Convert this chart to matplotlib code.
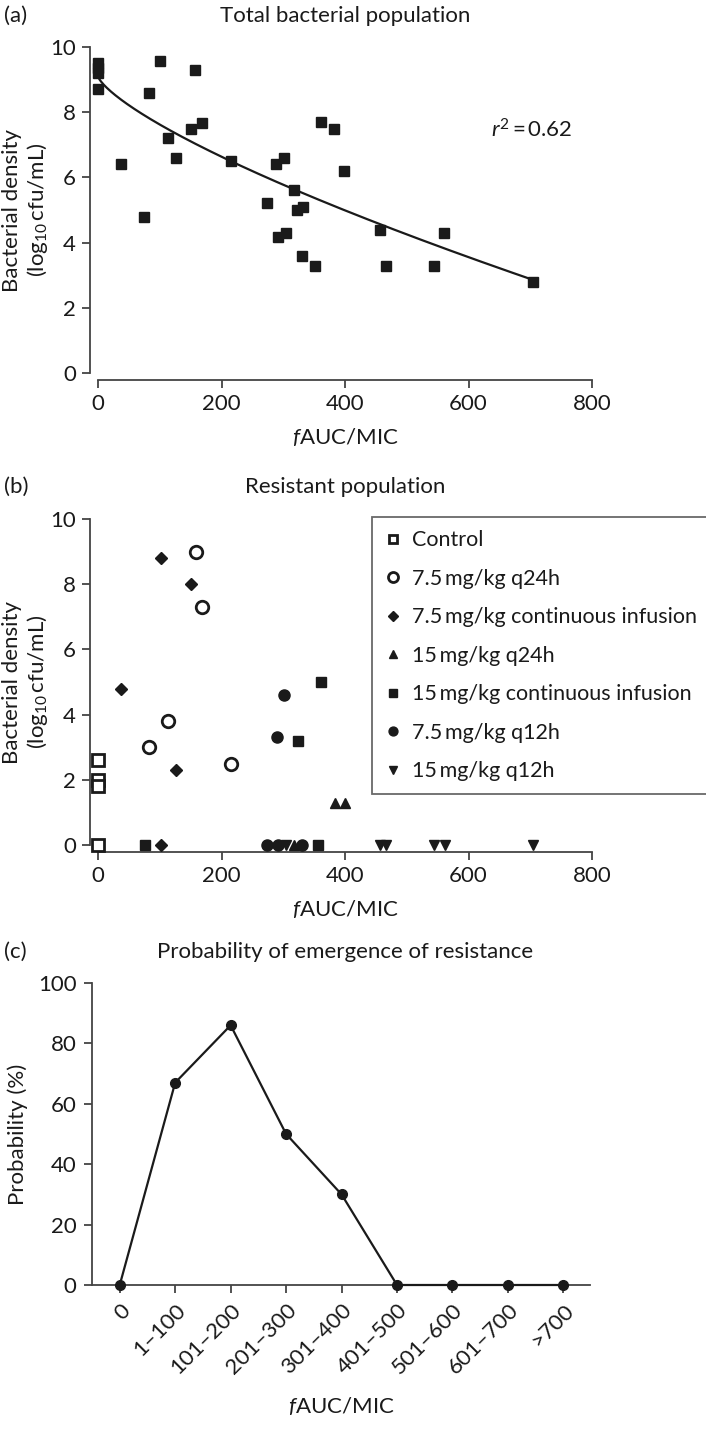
import numpy as np
import matplotlib
matplotlib.use("Agg")
import matplotlib.pyplot as plt

plt.rcParams['font.family'] = ['Lato', 'DejaVu Sans']
plt.rcParams['mathtext.fontset'] = 'custom'
plt.rcParams['mathtext.rm'] = 'Lato'
plt.rcParams['mathtext.it'] = 'Lato:italic'
plt.rcParams['mathtext.bf'] = 'Lato:bold'

# ---------------- data ----------------
# Panel (a): total bacterial population
total_x = [0, 0, 0, 0, 38, 75, 82, 101, 113, 126, 150, 157, 169, 215,
           274, 289, 292, 301, 304, 317, 323, 330, 332, 352, 361, 382, 399,
           456, 467, 544, 561, 705]
total_y = [9.5, 9.35, 9.2, 8.72, 6.4, 4.8, 8.6, 9.58, 7.2, 6.6, 7.5, 9.28, 7.68, 6.5,
           5.2, 6.4, 4.18, 6.6, 4.3, 5.6, 5.0, 3.59, 5.09, 3.29, 7.69, 7.48, 6.2,
           4.39, 3.29, 3.29, 4.28, 2.79]
fit_a, fit_b, fit_c = 9.1, 0.0494, 0.738   # fitted model y = a - b*x^c
r2_text = "0.62"

# Panel (b): resistant population, by regimen
groups = ["Control", "7.5\u2009mg/kg q24h", "7.5\u2009mg/kg continuous infusion",
          "15\u2009mg/kg q24h", "15\u2009mg/kg continuous infusion",
          "7.5\u2009mg/kg q12h", "15\u2009mg/kg q12h"]
ctrl_x = [0, 0, 0, 0];            ctrl_y = [2.6, 2.0, 1.8, 0]
q24_75_x = [83, 113, 158, 169, 216]; q24_75_y = [3.0, 3.8, 9.0, 7.3, 2.5]
ci_75_x = [38, 102, 102, 126, 151];  ci_75_y = [4.8, 8.8, 0, 2.3, 8.0]
q24_15_x = [317, 383, 400];          q24_15_y = [0, 1.3, 1.3]
ci_15_x = [76, 324, 356, 361];       ci_15_y = [0, 3.2, 0, 5.0]
q12_75_x = [274, 290, 292, 301, 330]; q12_75_y = [0, 3.3, 0, 4.6, 0]
q12_15_x = [304, 457, 467, 544, 562, 705]; q12_15_y = [0, 0, 0, 0, 0, 0]

# Panel (c): probability of emergence of resistance
prob_cats = ["0", "1\u2013100", "101\u2013200", "201\u2013300", "301\u2013400",
             "401\u2013500", "501\u2013600", "601\u2013700", ">700"]
prob_vals = [0, 67, 86, 50, 30, 0, 0, 0, 0]

# ---------------- figure ----------------
W, H = 706, 1452
fig = plt.figure(figsize=(W / 100, H / 100), dpi=100)

def px_axes(left, top, right, bottom):
    return fig.add_axes([left / W, 1 - bottom / H, (right - left) / W, (bottom - top) / H])

ink = '#1a1a1a'
spc = '#444444'
fs = 16

def set_ylabel_at(ax, text, xpix, left):
    ax.set_ylabel(text, fontsize=fs, color=ink, linespacing=1.15)
    ax.yaxis.label.set_verticalalignment('center')
    width = ax.get_position().width * W
    ax.yaxis.set_label_coords((xpix - left) / width, 0.5)

def style_offset(ax, ylim, yticks, xlim, xticks, left):
    ax.set_xlim(*xlim)
    ax.set_ylim(*ylim)
    for s in ['top', 'right']:
        ax.spines[s].set_visible(False)
    ax.spines['left'].set_position(('outward', 6))
    ax.spines['bottom'].set_position(('outward', 5))
    ax.spines['left'].set_bounds(ylim[0], ylim[1])
    ax.spines['bottom'].set_bounds(xticks[0], xticks[-1])
    for s in ['left', 'bottom']:
        ax.spines[s].set_color(spc)
        ax.spines[s].set_linewidth(1.3)
    ax.set_xticks(xticks)
    ax.set_yticks(yticks)
    ax.tick_params(colors=spc, labelcolor=ink, labelsize=fs, width=1.3, length=6, pad=4)
    set_ylabel_at(ax, "Bacterial density\n(log$_{10}$\u2009cfu/mL)", 26, left)
    ax.set_xlabel("$f$AUC/MIC", fontsize=fs, color=ink, labelpad=9)

# ---- Panel (a)
axa = px_axes(98, 47, 592, 373)
style_offset(axa, (0, 10), [0, 2, 4, 6, 8, 10], (0, 800), [0, 200, 400, 600, 800], 98)
axa.plot(total_x, total_y, 's', color=ink, ms=7, clip_on=False, zorder=3)
xx = np.linspace(0, max(total_x), 300)
axa.plot(xx, fit_a - fit_b * xx ** fit_c, '-', color=ink, lw=1.6, zorder=2)
axa.text(636, 7.45, "$r^2$\u2009=\u2009" + r2_text, fontsize=fs, color=ink, va='center')
fig.text(4 / W, 1 - 16 / H, "(a)", fontsize=fs, color=ink, va='center', ha='left')
fig.text(345 / W, 1 - 16 / H, "Total bacterial population", fontsize=fs, color=ink,
         va='center', ha='center')

# ---- Panel (b)
axb = px_axes(98, 519, 592, 845)
style_offset(axb, (0, 10), [0, 2, 4, 6, 8, 10], (0, 800), [0, 200, 400, 600, 800], 98)
kw = dict(linestyle='none', clip_on=False, zorder=3)
axb.plot(ctrl_x, ctrl_y, 's', ms=8, mfc='white', mec=ink, mew=2, label=groups[0], **kw)
axb.plot(q24_75_x, q24_75_y, 'o', ms=9, mfc='white', mec=ink, mew=2, label=groups[1], **kw)
axb.plot(ci_75_x, ci_75_y, 'D', ms=6, color=ink, label=groups[2], **kw)
axb.plot(q24_15_x, q24_15_y, '^', ms=7, color=ink, label=groups[3], **kw)
axb.plot(ci_15_x, ci_15_y, 's', ms=7, color=ink, label=groups[4], **kw)
axb.plot(q12_75_x, q12_75_y, 'o', ms=8, color=ink, label=groups[5], **kw)
axb.plot(q12_15_x, q12_15_y, 'v', ms=7, color=ink, label=groups[6], **kw)
leg = axb.legend(loc='upper left', bbox_to_anchor=(0.555, 1.005), fontsize=15.5,
                 frameon=True, fancybox=False, edgecolor=spc, borderpad=0.6,
                 labelspacing=0.86, handlelength=0.7, handletextpad=0.55,
                 markerscale=0.8, borderaxespad=0)
leg.get_frame().set_linewidth(1.3)
for t in leg.get_texts():
    t.set_color(ink)
fig.text(4 / W, 1 - 487 / H, "(b)", fontsize=fs, color=ink, va='center', ha='left')
fig.text(345 / W, 1 - 487 / H, "Resistant population", fontsize=fs, color=ink,
         va='center', ha='center')

# ---- Panel (c)
axc = px_axes(92, 983, 590, 1285)
xi = np.arange(len(prob_cats))
axc.plot(xi, prob_vals, '-o', color=ink, lw=1.6, ms=7, clip_on=False, zorder=3)
axc.set_xlim(-0.5, len(prob_cats) - 0.52)
axc.set_ylim(0, 100)
for s in ['top', 'right']:
    axc.spines[s].set_visible(False)
for s in ['left', 'bottom']:
    axc.spines[s].set_color(spc)
    axc.spines[s].set_linewidth(1.3)
axc.set_xticks(xi)
axc.set_xticklabels(prob_cats, rotation=45, ha='right', rotation_mode='anchor')
axc.set_yticks([0, 20, 40, 60, 80, 100])
axc.tick_params(colors=spc, labelcolor=ink, labelsize=fs, width=1.3, length=6, pad=5)
set_ylabel_at(axc, "Probability (%)", 18, 92)
axc.set_xlabel("$f$AUC/MIC", fontsize=fs, color=ink, labelpad=12)
fig.text(4 / W, 1 - 952 / H, "(c)", fontsize=fs, color=ink, va='center', ha='left')
fig.text(345 / W, 1 - 952 / H, "Probability of emergence of resistance", fontsize=fs,
         color=ink, va='center', ha='center')

fig.savefig("out.png", dpi=100)
